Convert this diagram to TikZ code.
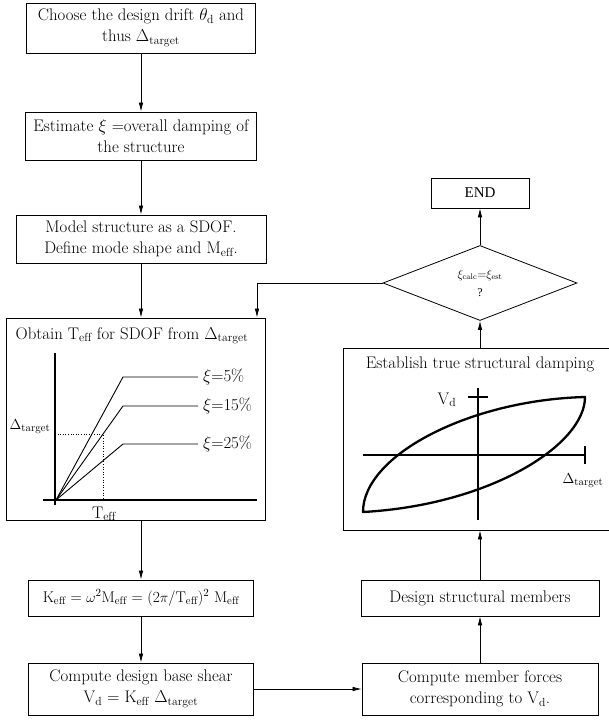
\documentclass[tikz,border=0pt]{standalone}
\usepackage{fontspec}
\newfontfamily\timesf{Liberation Serif}
\usetikzlibrary{arrows.meta,shapes.geometric}
\begin{document}
\begin{tikzpicture}[x=1pt,y=-1pt,
  box/.style={draw, line width=0.8pt, inner sep=0pt, align=center, font=\fontsize{16.8}{21}\selectfont},
  txt/.style={inner sep=0pt, font=\fontsize{16.8}{21}\selectfont},
  arr/.style={line width=0.7pt, -{Latex[length=9pt,width=4.5pt]}},
  gaxis/.style={line width=2pt},
  gline/.style={line width=0.9pt},
  haxis/.style={line width=1.6pt},
  hloop/.style={line width=2.3pt, line join=round}]
\useasboundingbox (0,0) rectangle (609,723);
% left column
\node[box, minimum width=229, minimum height=50] (b1) at (141,28)
  {Choose the design drift $\theta_{\mathrm{d}}$ and\\ thus $\Delta_{\mathrm{target}}$};
\node[box, minimum width=231, minimum height=48] (b2) at (141,136)
  {Estimate $\xi$ =overall damping of\\ the structure};
\node[box, minimum width=250, minimum height=48] (b3) at (141,239)
  {Model structure as a SDOF.\\ Define mode shape and M$_{\mathrm{eff}}$.};
\node[box, minimum width=259, minimum height=202] (obt) at (135.5,419) {};
\node[txt] (obtt) at (132,336) {Obtain T$_{\mathrm{eff}}$ for SDOF from $\Delta_{\mathrm{target}}$};
% graph inside
\draw[gaxis] (55,353) -- (55,505);
\draw[gaxis] (43,500) -- (257,500);
\draw[gline] (56,500) -- (123,377) -- (198,377);
\draw[gline] (56,500) -- (123,406) -- (198,406);
\draw[gline] (56,500) -- (123,444) -- (198,444);
\draw[dotted, line width=0.6pt] (55,434) -- (103,434) -- (103,500);
\node[txt, anchor=west] (x5) at (203,377) {$\xi$=5\%};
\node[txt, anchor=west] (x15) at (203,406) {$\xi$=15\%};
\node[txt, anchor=west] (x25) at (203,444) {$\xi$=25\%};
\node[txt, font=\fontsize{15.5}{19}\selectfont] (dtl) at (30,427) {$\Delta_{\mathrm{target}}$};
\node[txt] (tef) at (104,514) {T$_{\mathrm{eff}}$};
\node[box, font=\fontsize{15.5}{19}\selectfont, minimum width=225, minimum height=36] (keff) at (141,598)
  {K$_{\mathrm{eff}}$ = $\omega^2$M$_{\mathrm{eff}}$ = (2$\pi$/T$_{\mathrm{eff}}$)$^2$ M$_{\mathrm{eff}}$};
\node[box, minimum width=225, minimum height=52] (b6) at (141,689)
  {Compute design base shear\\ V$_{\mathrm{d}}$ = K$_{\mathrm{eff}}$ $\Delta_{\mathrm{target}}$};
% right column
\node[box, font=\timesf\fontsize{15}{18}\selectfont, minimum width=98, minimum height=30] (end) at (480,193) {END};
\node[draw, diamond, line width=0.8pt, inner sep=0pt, minimum width=194, minimum height=75,
  align=center, font=\fontsize{12}{18}\selectfont] (dia) at (480,283)
  {$\xi_{\mathrm{calc}}$=$\xi_{\mathrm{est}}$\\ {\timesf ?}};
\node[box, minimum width=268, minimum height=182] (hyst) at (477,439) {};
\node[txt] (hystt) at (480,364) {Establish true structural damping};
\draw[haxis] (478,388) -- (478,520);
\draw[haxis] (468,397) -- (488,397);
\draw[haxis] (363,455) -- (585,455);
\draw[haxis] (585,446) -- (585,464);
\draw[hloop] (363,512) .. controls (363,455) and (470,400) .. (585,397)
  .. controls (585,445) and (490,505) .. (363,512) -- cycle;
\node[txt] (vdl) at (447,400) {V$_{\mathrm{d}}$};
\node[txt, font=\fontsize{15.5}{19}\selectfont] (dtr) at (583,481) {$\Delta_{\mathrm{target}}$};
\node[box, minimum width=238, minimum height=36] (design) at (480,598) {Design structural members};
\node[box, minimum width=236, minimum height=52] (comp) at (480,689)
  {Compute member forces\\ corresponding to V$_{\mathrm{d}}$.};
% connectors
\draw[arr] (b1) -- (b2);
\draw[arr] (b2) -- (b3);
\draw[arr] (b3.south) -- (b3.south |- obt.north);
\draw[arr] (keff.north |- obt.south) -- (keff.north);
\draw[arr] (keff) -- (b6);
\draw[arr] (b6.east) -- (b6.east -| comp.west);
\draw[arr] (comp) -- (design);
\draw[arr] (design.north) -- (design.north |- hyst.south);
\draw[arr] (dia.south |- hyst.north) -- (dia.south);
\draw[arr] (dia) -- (end);
\coordinate (fb) at (257,283);
\draw[arr] (dia.west) -- (fb) -- (fb |- obt.north);
\end{tikzpicture}
\end{document}
